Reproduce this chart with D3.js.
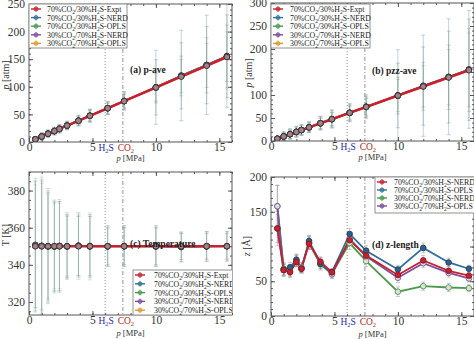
<!DOCTYPE html>
<html>
<head>
<meta charset="utf-8">
<script src="https://cdn.jsdelivr.net/npm/d3@7"></script>
<style>
  body { margin: 0; background: #fff; }
  svg { display: block; font-family: "Liberation Serif", "DejaVu Serif", serif; }
</style>
</head>
<body>
<svg id="chart" width="474" height="339"></svg>
<script>
// pressure points [MPa]
const pressure = [0.5, 1.0, 1.5, 2.0, 2.4, 3.0, 3.9, 4.8, 6.2, 7.5, 10, 12, 14, 15.6];

// critical pressure markers
const critH2S = 6.0;
const critCO2 = 7.4;

// series names (legend) for panels a-c and panel d
const namesABC = [
  ["70%CO", "2", "/30%H", "2", "S-Expt"],
  ["70%CO", "2", "/30%H", "2", "S-NERD"],
  ["70%CO", "2", "/30%H", "2", "S-OPLS"],
  ["30%CO", "2", "/70%H", "2", "S-NERD"],
  ["30%CO", "2", "/70%H", "2", "S-OPLS"]
];
const colorsABC = ["#c8202c", "#2f6f98", "#4c9a4c", "#7d4f9e", "#e09a30"];
const namesD = [
  ["70%CO", "2", "/30%H", "2", "S-NERD"],
  ["70%CO", "2", "/30%H", "2", "S-OPLS"],
  ["30%CO", "2", "/70%H", "2", "S-NERD"],
  ["30%CO", "2", "/70%H", "2", "S-OPLS"]
];
const colorsD = ["#c8202c", "#2f6f98", "#4c9a4c", "#7d4f9e"];

// (a) p-ave [atm]
const pAveExpt     = [4.9, 9.9, 14.8, 19.7, 23.7, 29.6, 38.5, 47.4, 61.2, 74.0, 98.7, 118.4, 138.2, 154.0];
const pAveNerd7030 = [5.0, 10.1, 15.0, 19.9, 24.0, 29.9, 38.8, 47.8, 61.5, 74.4, 99.2, 120.5, 139.8, 155.8];
const pAveOpls7030 = [4.9, 9.8, 14.9, 19.8, 23.8, 29.7, 38.4, 47.5, 61.0, 74.1, 98.9, 119.6, 139.0, 154.9];
const pAveNerd3070 = [5.0, 10.0, 15.1, 19.8, 23.9, 29.8, 38.6, 47.6, 61.3, 74.2, 99.0, 119.9, 139.3, 155.2];
const pAveOpls3070 = [4.9, 9.9, 14.9, 19.7, 23.8, 29.6, 38.5, 47.4, 61.1, 74.0, 98.8, 119.2, 138.8, 154.5];
const pAveErrNerd7030 = [3, 7, 7, 7, 8, 8, 10, 12, 12, 17, 67, 82, 90, 93];
const pAveErrOpls7030 = [2, 5, 5, 6, 6, 6, 8, 10, 10, 13, 28, 36, 50, 57];
const pAveErrNerd3070 = [3, 6, 6, 7, 7, 7, 9, 11, 11, 15, 50, 60, 70, 75];
const pAveErrOpls3070 = [2, 5, 5, 5, 6, 6, 7, 9, 9, 12, 25, 30, 40, 45];

// (b) pzz-ave [atm]
const pzzExpt     = [4.9, 9.9, 14.8, 19.7, 23.7, 29.6, 38.5, 47.4, 61.2, 74.0, 98.7, 118.4, 138.2, 154.0];
const pzzNerd7030 = [5.1, 10.2, 15.1, 20.0, 24.1, 30.0, 38.9, 47.9, 61.6, 74.6, 99.4, 120.2, 139.6, 155.6];
const pzzOpls7030 = [4.8, 9.8, 14.7, 19.6, 23.6, 29.5, 38.3, 47.2, 61.0, 73.8, 98.5, 118.8, 138.5, 154.4];
const pzzNerd3070 = [5.0, 10.0, 15.0, 19.8, 23.9, 29.8, 38.7, 47.6, 61.3, 74.3, 99.0, 119.5, 139.0, 155.0];
const pzzOpls3070 = [4.9, 9.9, 14.8, 19.7, 23.7, 29.6, 38.5, 47.3, 61.1, 74.0, 98.8, 119.0, 138.6, 154.6];
const pzzErrNerd7030 = [4, 10, 12, 12, 12, 12, 15, 20, 20, 26, 99, 110, 126, 128];
const pzzErrOpls7030 = [3, 8, 9, 9, 10, 10, 12, 15, 16, 20, 40, 52, 70, 90];
const pzzErrNerd3070 = [4, 9, 10, 11, 11, 11, 14, 18, 18, 23, 70, 85, 100, 110];
const pzzErrOpls3070 = [3, 7, 8, 8, 9, 9, 11, 14, 14, 18, 35, 45, 60, 80];

// (c) Temperature [K]
const tempExpt     = [350, 350, 350, 350, 350, 350, 350, 350, 350, 350, 350, 350, 350, 350];
const tempNerd7030 = [350.6, 350.3, 350.1, 349.9, 350.2, 350.0, 350.4, 350.1, 350.0, 350.2, 350.0, 349.6, 350.0, 350.1];
const tempOpls7030 = [350.3, 350.1, 349.9, 350.0, 350.1, 350.1, 350.2, 349.9, 350.1, 350.0, 350.1, 349.8, 350.1, 350.0];
const tempNerd3070 = [350.8, 350.2, 350.0, 349.8, 350.0, 349.9, 350.3, 350.0, 349.9, 350.1, 349.9, 349.7, 349.9, 350.0];
const tempOpls3070 = [350.1, 350.0, 350.1, 350.1, 350.2, 350.0, 350.1, 350.2, 350.0, 350.0, 350.0, 349.9, 350.0, 350.1];
const tempErrNerd7030 = [36, 37, 31, 25, 25, 17, 17, 17, 11, 11, 11, 8, 8, 8];
const tempErrOpls7030 = [35, 36, 30, 24, 24, 18, 18, 18, 11, 11, 11, 7, 7, 7];
const tempErrNerd3070 = [34, 35, 29, 24, 24, 17, 16, 16, 10, 10, 10, 8, 8, 8];
const tempErrOpls3070 = [33, 34, 28, 23, 23, 16, 16, 16, 10, 10, 10, 7, 7, 7];

// (d) z-length [Å]
const zNerd7030 = [126, 66, 63, 78, 68, 104, 78, 63, 109, 87, 59, 80, 65, 58];
const zOpls7030 = [126, 67, 70, 81, 68, 108, 75, 63, 118, 94, 67, 98, 77, 68];
const zNerd3070 = [158, 68, 66, 80, 70, 105, 74, 61, 105, 79, 35, 43, 41, 40];
const zOpls3070 = [158, 66, 64, 79, 69, 106, 76, 60, 111, 86, 55, 76, 62, 54];
const zErrNerd7030 = [20, 8, 7, 7, 6, 8, 7, 5, 8, 7, 6, 7, 6, 5];
const zErrOpls7030 = [25, 8, 7, 8, 6, 8, 7, 5, 8, 7, 6, 7, 6, 5];
const zErrNerd3070 = [30, 9, 8, 8, 7, 9, 8, 6, 9, 8, 7, 6, 6, 5];
const zErrOpls3070 = [30, 9, 8, 8, 7, 9, 8, 6, 9, 8, 7, 6, 6, 5];

const svg = d3.select("#chart");
const defs = svg.append("defs");

function addSubText(sel, parts, subSize) {
  parts.forEach((p, i) => {
    const t = sel.append("tspan").text(p);
    if (i % 2 === 1) t.attr("font-size", subSize).attr("baseline-shift", "-25%");
  });
}

function panel(cfg) {
  const x = d3.scaleLinear().domain([0, 16]).range([cfg.left, cfg.right]);
  const y = d3.scaleLinear().domain(cfg.yDomain).range([cfg.bottom, cfg.top]);
  const g = svg.append("g");
  const clipId = "clip-" + cfg.id;
  defs.append("clipPath").attr("id", clipId)
    .append("rect").attr("x", cfg.left).attr("y", cfg.top)
    .attr("width", cfg.right - cfg.left).attr("height", cfg.bottom - cfg.top);

  const plot = g.append("g").attr("clip-path", `url(#${clipId})`);

  // critical pressure lines
  plot.append("line").attr("x1", x(critH2S)).attr("x2", x(critH2S))
    .attr("y1", cfg.top).attr("y2", cfg.bottom)
    .attr("stroke", "#777").attr("stroke-width", 0.8).attr("stroke-dasharray", "1,2");
  plot.append("line").attr("x1", x(critCO2)).attr("x2", x(critCO2))
    .attr("y1", cfg.top).attr("y2", cfg.bottom)
    .attr("stroke", "#777").attr("stroke-width", 0.8).attr("stroke-dasharray", "4,2,1,2");

  // error bars
  cfg.series.forEach(s => {
    if (!s.err) return;
    const eb = plot.append("g")
      .attr("stroke", s.errColor).attr("stroke-opacity", cfg.errOpacity).attr("stroke-width", 1);
    pressure.forEach((px, i) => {
      const cx = x(px), y1 = y(s.values[i] + s.err[i]), y2 = y(s.values[i] - s.err[i]);
      eb.append("line").attr("x1", cx).attr("x2", cx).attr("y1", y1).attr("y2", y2);
      eb.append("line").attr("x1", cx - 2).attr("x2", cx + 2).attr("y1", y1).attr("y2", y1);
      eb.append("line").attr("x1", cx - 2).attr("x2", cx + 2).attr("y1", y2).attr("y2", y2);
    });
  });

  const line = d3.line().x((d, i) => x(pressure[i])).y(d => y(d));
  cfg.lineOrder.forEach(si => {
    const s = cfg.series[si];
    plot.append("path").datum(s.values).attr("d", line)
      .attr("fill", "none").attr("stroke", s.color).attr("stroke-width", s.width || 1.6);
  });
  cfg.lineOrder.forEach(si => {
    const s = cfg.series[si];
    plot.append("g").selectAll("circle").data(s.values).join("circle")
      .attr("cx", (d, i) => x(pressure[i])).attr("cy", d => y(d)).attr("r", 2.8)
      .attr("fill", s.markFill).attr("stroke", s.markStroke).attr("stroke-width", 0.9);
  });

  // frame
  g.append("rect").attr("x", cfg.left).attr("y", cfg.top)
    .attr("width", cfg.right - cfg.left).attr("height", cfg.bottom - cfg.top)
    .attr("fill", "none").attr("stroke", "#555").attr("stroke-width", 1);

  // ticks inside on all four sides
  const tickStyle = a => a.call(s => s.select(".domain").remove())
    .call(s => s.selectAll("line").attr("stroke", "#555"));
  const labelStyle = a => a.call(s => s.selectAll("text")
    .attr("font-family", "Liberation Serif").attr("font-size", 11.5).attr("fill", "#333"));
  const xMaj = [0, 5, 10, 15], xMin = d3.range(0, 17, 1);
  g.append("g").attr("transform", `translate(0,${cfg.bottom})`)
    .call(d3.axisBottom(x).tickValues(xMaj).tickSize(-4).tickPadding(1).tickFormat(d3.format("d")))
    .call(tickStyle).call(labelStyle);
  g.append("g").attr("transform", `translate(0,${cfg.bottom})`)
    .call(d3.axisBottom(x).tickValues(xMin).tickSize(-2).tickFormat("")).call(tickStyle);
  g.append("g").attr("transform", `translate(0,${cfg.top})`)
    .call(d3.axisTop(x).tickValues(xMaj).tickSize(-4).tickFormat("")).call(tickStyle);
  g.append("g").attr("transform", `translate(0,${cfg.top})`)
    .call(d3.axisTop(x).tickValues(xMin).tickSize(-2).tickFormat("")).call(tickStyle);

  g.append("g").attr("transform", `translate(${cfg.left},0)`)
    .call(d3.axisLeft(y).tickValues(cfg.yTicks).tickSize(-4).tickPadding(4).tickFormat(d3.format("d")))
    .call(tickStyle).call(labelStyle);
  g.append("g").attr("transform", `translate(${cfg.left},0)`)
    .call(d3.axisLeft(y).tickValues(cfg.yMinor).tickSize(-2).tickFormat("")).call(tickStyle);
  g.append("g").attr("transform", `translate(${cfg.right},0)`)
    .call(d3.axisRight(y).tickValues(cfg.yMajorAll || cfg.yTicks).tickSize(-4).tickFormat("")).call(tickStyle);
  g.append("g").attr("transform", `translate(${cfg.right},0)`)
    .call(d3.axisRight(y).tickValues(cfg.yMinor).tickSize(-2).tickFormat("")).call(tickStyle);

  // H2S / CO2 labels
  const hl = g.append("text").attr("x", x(critH2S) + 1).attr("y", cfg.bottom + 9)
    .attr("text-anchor", "middle").attr("font-size", 9.5).attr("fill", "#2a2aa0");
  addSubText(hl, ["H", "2", "S"], 6.5);
  const cl = g.append("text").attr("x", x(critCO2) + 3).attr("y", cfg.bottom + 9)
    .attr("text-anchor", "middle").attr("font-size", 9.5).attr("fill", "#a8281e");
  addSubText(cl, ["CO", "2"], 6.5);

  // axis labels
  const xl = g.append("text").attr("x", (cfg.left + cfg.right) / 2).attr("y", cfg.bottom + cfg.xLabelDy)
    .attr("text-anchor", "middle").attr("font-size", 8.5).attr("fill", "#333");
  xl.append("tspan").attr("font-style", "italic").text("p");
  xl.append("tspan").text(" [MPa]");
  const yl = g.append("text")
    .attr("transform", `translate(${cfg.yLabelX},${cfg.yLabelY}) rotate(-90)`)
    .attr("text-anchor", "middle").attr("font-size", 10).attr("fill", "#333");
  yl.append("tspan").attr("font-style", cfg.yLabelItalic ? "italic" : "normal").text(cfg.yLabel[0]);
  yl.append("tspan").text(cfg.yLabel[1]);

  // panel title
  g.append("text").attr("x", cfg.titleX).attr("y", cfg.titleY)
    .attr("font-size", 9.5).attr("font-weight", "bold").attr("fill", "#222").text(cfg.title);

  // legend
  const lg = g.append("g").attr("clip-path", `url(#${clipId})`);
  const L = cfg.legend;
  lg.append("rect").attr("x", L.x).attr("y", L.y).attr("width", L.w).attr("height", L.h)
    .attr("fill", "#fff").attr("stroke", "#777").attr("stroke-width", 0.8);
  L.names.forEach((nm, i) => {
    const s = cfg.series[i];
    const ry = L.y + 5 + i * L.step;
    lg.append("line").attr("x1", L.x + 2).attr("x2", L.x + 12).attr("y1", ry).attr("y2", ry)
      .attr("stroke", s.color).attr("stroke-width", 1.4);
    lg.append("line").attr("x1", L.x + 7).attr("x2", L.x + 7).attr("y1", ry - 3).attr("y2", ry + 3)
      .attr("stroke", s.color).attr("stroke-opacity", 0.6).attr("stroke-width", 1);
    lg.append("circle").attr("cx", L.x + 7).attr("cy", ry).attr("r", 2)
      .attr("fill", s.color).attr("fill-opacity", 0.5).attr("stroke", s.color).attr("stroke-width", 0.8);
    const t = lg.append("text").attr("x", L.x + L.textOff).attr("y", ry + 3)
      .attr("font-size", 7.8).attr("fill", "#222");
    addSubText(t, nm, 5.5);
  });
}

function seriesABC(vals, errs) {
  return vals.map((v, i) => ({
    values: v,
    err: errs[i],
    color: colorsABC[i],
    errColor: i % 2 === 1 ? "#6f8ea0" : "#86a286",
    width: i === 0 ? 2.6 : 1.6,
    markFill: i === 0 ? "#a88088" : "#8a8a8a",
    markStroke: "#333"
  }));
}

panel({
  id: "a", left: 29, right: 232, top: 4, bottom: 142,
  yDomain: [0, 250], yTicks: [0, 50, 100, 150, 200, 250], yMinor: d3.range(0, 251, 10),
  yLabel: ["p", " [atm]"], yLabelItalic: true, yLabelX: 9, yLabelY: 75,
  title: "(a) p-ave", titleX: 130, titleY: 73, xLabelDy: 19, errOpacity: 0.4,
  series: seriesABC([pAveExpt, pAveNerd7030, pAveOpls7030, pAveNerd3070, pAveOpls3070],
    [null, pAveErrNerd7030, pAveErrOpls7030, pAveErrNerd3070, pAveErrOpls3070]),
  lineOrder: [1, 2, 3, 4, 0],
  legend: { x: 29, y: 4, w: 98, h: 44, step: 8.6, textOff: 18, names: namesABC }
});

panel({
  id: "b", left: 271, right: 474, top: 3, bottom: 141,
  yDomain: [0, 300], yTicks: [0, 50, 100, 200, 250, 300], yMajorAll: [0, 50, 100, 150, 200, 250, 300],
  yMinor: d3.range(0, 301, 10),
  yLabel: ["p", " [atm]"], yLabelItalic: true, yLabelX: 252, yLabelY: 73,
  title: "(b) pzz-ave", titleX: 372, titleY: 74, xLabelDy: 19, errOpacity: 0.4,
  series: seriesABC([pzzExpt, pzzNerd7030, pzzOpls7030, pzzNerd3070, pzzOpls3070],
    [null, pzzErrNerd7030, pzzErrOpls7030, pzzErrNerd3070, pzzErrOpls3070]),
  lineOrder: [1, 2, 3, 4, 0],
  legend: { x: 271, y: 4, w: 99, h: 44, step: 8.6, textOff: 19, names: namesABC }
});

panel({
  id: "c", left: 29, right: 232, top: 172, bottom: 315,
  yDomain: [313, 390], yTicks: [320, 340, 360, 380], yMinor: d3.range(315, 391, 5),
  yLabel: ["T", " [K]"], yLabelItalic: false, yLabelX: 9, yLabelY: 235,
  title: "(c) Temperature", titleX: 130, titleY: 247, xLabelDy: 21, errOpacity: 0.3,
  series: seriesABC([tempExpt, tempNerd7030, tempOpls7030, tempNerd3070, tempOpls3070],
    [null, tempErrNerd7030, tempErrOpls7030, tempErrNerd3070, tempErrOpls3070]),
  lineOrder: [1, 2, 3, 4, 0],
  legend: { x: 133, y: 270, w: 102, h: 45, step: 8.8, textOff: 21, names: namesABC }
});

panel({
  id: "d", left: 271, right: 474, top: 177, bottom: 316,
  yDomain: [0, 200], yTicks: [0, 50, 150, 200], yMajorAll: [0, 50, 100, 150, 200],
  yMinor: d3.range(0, 201, 10),
  yLabel: ["z", " [Å]"], yLabelItalic: true, yLabelX: 250, yLabelY: 246,
  title: "(d) z-length", titleX: 372, titleY: 248, xLabelDy: 21, errOpacity: 0.45,
  series: [zNerd7030, zOpls7030, zNerd3070, zOpls3070].map((v, i) => ({
    values: v,
    err: [zErrNerd7030, zErrOpls7030, zErrNerd3070, zErrOpls3070][i],
    color: colorsD[i],
    errColor: "#888",
    width: 1.8,
    markFill: i === 1 ? "#2f5f88" : (i === 0 ? "#c8202c" : "#ddd"),
    markStroke: i === 0 ? "#8a1a20" : (i === 1 ? "#1f3f60" : colorsD[i])
  })),
  lineOrder: [2, 3, 1, 0],
  legend: { x: 375, y: 177, w: 110, h: 36, step: 8, textOff: 19, names: namesD }
});
</script>
</body>
</html>
